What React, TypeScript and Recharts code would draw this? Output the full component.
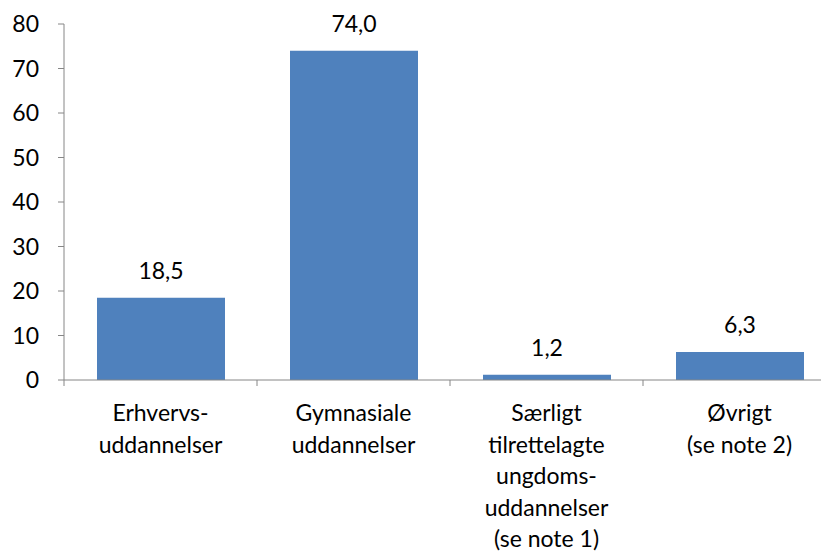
import React from "react";
import { Bar, BarChart, LabelList, XAxis, YAxis } from "recharts";

const categories = [
  "Erhvervs-\nuddannelser",
  "Gymnasiale\nuddannelser",
  "Særligt\ntilrettelagte\nungdoms-\nuddannelser\n(se note 1)",
  "Øvrigt\n(se note 2)",
];
const shares = [18.5, 74.0, 1.2, 6.3];
const yTicks = [0, 10, 20, 30, 40, 50, 60, 70, 80];

const data = categories.map((name, i) => ({ name, value: shares[i] }));

const FONT = "Lato, 'Open Sans', sans-serif";
const FS = 23;
const AXIS = "#868686";
const PLOT_W = 772;
const BAND = PLOT_W / categories.length;

const CategoryTick = (props: any) => {
  const { x, y, payload, index } = props;
  const lines = String(payload.value).split("\n");
  return (
    <g>
      <line x1={x - BAND / 2} x2={x - BAND / 2} y1={y - 8} y2={y - 2} stroke={AXIS} />
      {index === categories.length - 1 && (
        <line x1={x + BAND / 2} x2={x + BAND / 2} y1={y - 8} y2={y - 2} stroke={AXIS} />
      )}
      <text x={x} y={y + 33} textAnchor="middle" fill="#000" fontSize={FS} fontFamily={FONT}>
        {lines.map((l, i) => (
          <tspan key={i} x={x} dy={i === 0 ? 0 : 31.5}>
            {l}
          </tspan>
        ))}
      </text>
    </g>
  );
};

export default function App() {
  return (
    <div style={{ width: 821, height: 546, overflow: "hidden" }}>
      <BarChart
        width={840}
        height={546}
        data={data}
        margin={{ top: 16, right: 12, bottom: 14, left: 0 }}
        barSize={128}
      >
        <XAxis
          dataKey="name"
          tick={<CategoryTick />}
          tickLine={false}
          axisLine={{ stroke: AXIS }}
          height={160}
          interval={0}
        />
        <YAxis
          domain={[0, 80]}
          ticks={yTicks}
          width={56}
          tickSize={6}
          tickMargin={19}
          tickLine={{ stroke: AXIS }}
          axisLine={{ stroke: AXIS }}
          tick={{ fill: "#000", fontSize: FS, fontFamily: FONT }}
        />
        <Bar dataKey="value" fill="#4F81BD" isAnimationActive={false}>
          <LabelList
            dataKey="value"
            position="top"
            offset={19}
            formatter={(v: any) => Number(v).toFixed(1).replace(".", ",")}
            style={{ fill: "#000", fontSize: FS, fontFamily: FONT }}
          />
        </Bar>
      </BarChart>
    </div>
  );
}
